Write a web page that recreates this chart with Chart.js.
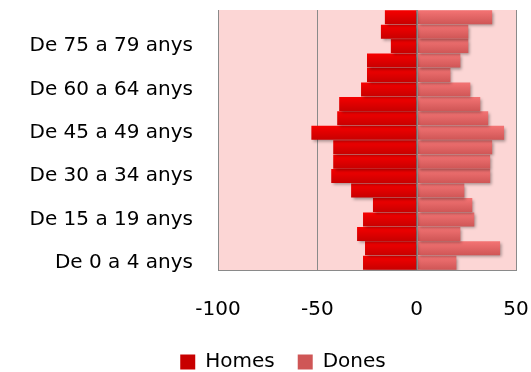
<!DOCTYPE html>
<html><head><meta charset="utf-8">
<script src="https://cdn.jsdelivr.net/npm/chart.js@4/dist/chart.umd.min.js"></script>
<style>html,body{margin:0;padding:0;background:#fff}#w{width:531px;height:372px}</style>
</head><body><div id="w"><canvas id="c"></canvas></div>
<script>
const categories = ["De 0 a 4 anys","De 5 a 9 anys","De 10 a 14 anys","De 15 a 19 anys","De 20 a 24 anys","De 25 a 29 anys","De 30 a 34 anys","De 35 a 39 anys","De 40 a 44 anys","De 45 a 49 anys","De 50 a 54 anys","De 55 a 59 anys","De 60 a 64 anys","De 65 a 69 anys","De 70 a 74 anys","De 75 a 79 anys","De 80 a 84 anys","De 85 anys i més"];
const homes = [-27,-26,-30,-27,-22,-33,-43,-42,-42,-53,-40,-39,-28,-25,-25,-13,-18,-16];
const dones = [20,42,22,29,28,24,37,37,38,44,36,32,27,17,22,26,26,38];
const xTicks = [-100,-50,0,50];
const FONT = 'DejaVu Sans';

function grad(top, bottom){
  return function(c){
    const ch = c.chart;
    if(!ch.chartArea || !ch.scales.y) return top;
    const y = ch.scales.y.getPixelForValue(c.dataIndex);
    const g = ch.ctx.createLinearGradient(0, y-7, 0, y+7);
    g.addColorStop(0, top); g.addColorStop(1, bottom);
    return g;
  };
}

const plotBg = {
  id:'plotBg',
  beforeDraw(chart){
    const {ctx, chartArea:a} = chart;
    ctx.save();
    ctx.fillStyle = '#fcd6d5';
    ctx.fillRect(a.left, a.top, a.right-a.left, a.bottom-a.top);
    ctx.restore();
  },
  beforeDatasetsDraw(chart){
    const ctx = chart.ctx;
    ctx.save();
    ctx.shadowColor = 'rgba(0,0,0,0.35)';
    ctx.shadowBlur = 3;
    ctx.shadowOffsetX = 2;
    ctx.shadowOffsetY = 2;
  },
  afterDatasetsDraw(chart){
    const ctx = chart.ctx;
    ctx.restore();
    const a = chart.chartArea;
    const x0 = Math.round(chart.scales.x.getPixelForValue(0)) + 0.5;
    ctx.save();
    ctx.strokeStyle = '#8a8a8a'; ctx.lineWidth = 1;
    ctx.beginPath(); ctx.moveTo(x0, a.top); ctx.lineTo(x0, a.bottom); ctx.stroke();
    ctx.restore();
  },
  afterLayout(chart){
    const lg = chart.legend;
    if(lg){ lg.left += 25; lg.right += 25; lg.top += 10; lg.bottom += 10; }
  }
};

new Chart(document.getElementById('c'), {
  type:'bar',
  data:{
    labels: categories,
    datasets:[
      {label:'Homes', data: homes, backgroundColor: grad('#f60000','#c80000'), borderWidth:0},
      {label:'Dones', data: dones, backgroundColor: grad('#f47474','#cf5656'), borderWidth:0}
    ]
  },
  options:{
    indexAxis:'y',
    responsive:true, maintainAspectRatio:false, animation:false,
    layout:{padding:{top:10,right:15,left:0,bottom:0}},
    datasets:{bar:{barPercentage:0.97, categoryPercentage:1}},
    scales:{
      x:{
        min:-100, max:50, stacked:true,
        afterBuildTicks(s){ s.ticks = xTicks.map(v=>({value:v})); },
        afterFit(s){ s.height -= 3; },
        grid:{color:'#8a8a8a', lineWidth:1, drawTicks:true, tickLength:28, tickColor:'rgba(0,0,0,0)'},
        border:{display:true, color:'#8a8a8a'},
        ticks:{font:{family:FONT, size:20}, color:'#000', padding:0, maxRotation:0}
      },
      y:{
        stacked:true, reverse:true,
        grid:{display:true, drawOnChartArea:false, drawTicks:true, tickLength:25, tickColor:'rgba(0,0,0,0)'},
        border:{display:true, color:'#8a8a8a'},
        afterFit(s){ s.width = 218; },
        ticks:{autoSkip:false, padding:0, font:{family:FONT, size:20, lineHeight:1}, color:'#000',
          callback(v,i){ return i%3===0 ? categories[i] : ''; }}
      }
    },
    plugins:{
      legend:{position:'bottom', labels:{font:{family:FONT, size:20}, color:'#000', boxWidth:15, boxHeight:15, padding:23}},
      tooltip:{enabled:false}
    }
  },
  plugins:[plotBg]
});
</script>
</body></html>
